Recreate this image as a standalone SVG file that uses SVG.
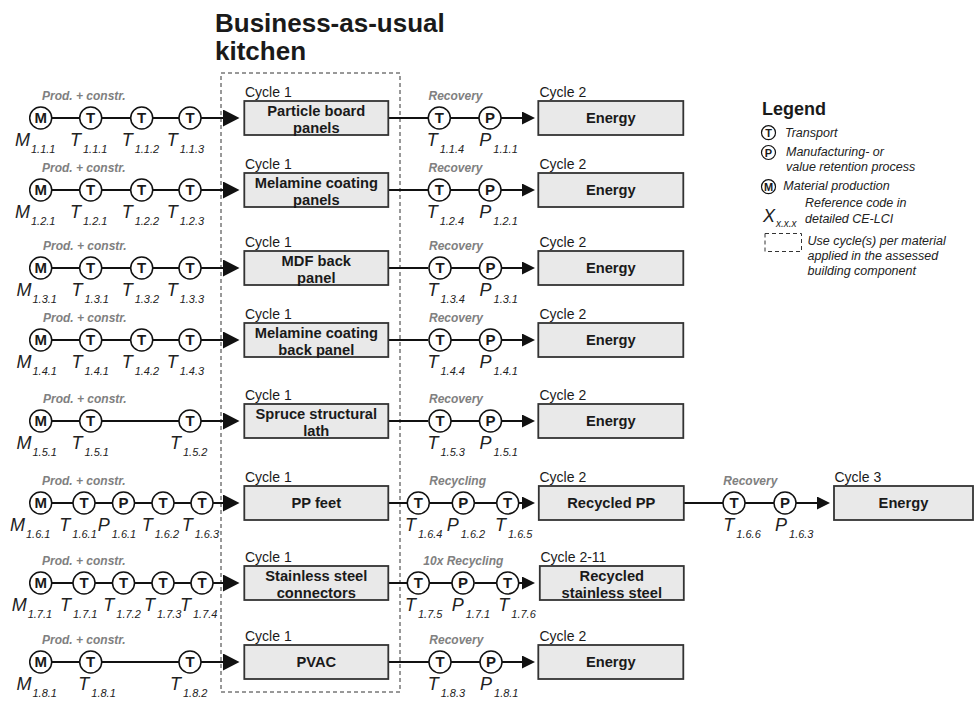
<svg xmlns="http://www.w3.org/2000/svg" width="974" height="701" viewBox="0 0 974 701">
<style>
text{font-family:"Liberation Sans",Arial,sans-serif;fill:#1a1a1a}
.ttl{font-size:26px;font-weight:bold}
.ln{stroke:#111;stroke-width:2;fill:none}
.c{fill:#fff;stroke:#111;stroke-width:1.5}
.cl{font-size:15px;font-weight:bold;text-anchor:middle}
.bx{fill:#e9e9e9;stroke:#333;stroke-width:1.8}
.bt{font-size:14.7px;font-weight:bold;text-anchor:middle}
.cy{font-size:14px}
.ph{font-size:12px;font-style:italic;font-weight:bold;fill:#808080}
.lb{font-size:18px;font-style:italic;fill:#222}
.sb{font-size:11px}
.dash{fill:none;stroke:#333;stroke-width:1;stroke-dasharray:4 3}
.lg{font-size:18px;font-weight:bold}
.lt{font-size:12.5px;font-style:italic;fill:#222}
.lc{fill:#fff;stroke:#111;stroke-width:1.2}
.lcl{font-size:11px;font-weight:bold;text-anchor:middle}
</style>
<defs>
<marker id="aL" markerUnits="userSpaceOnUse" markerWidth="17" markerHeight="17" refX="0" refY="8.5" orient="auto"><path d="M0,0 L16.5,8.5 L0,17 z" fill="#111"/></marker>
<marker id="aS" markerUnits="userSpaceOnUse" markerWidth="14" markerHeight="13" refX="0" refY="6.5" orient="auto"><path d="M0,0 L13,6.5 L0,13 z" fill="#111"/></marker>
</defs>

<g id="title">
<text class="ttl" x="215" y="32">Business-as-usual</text>
<text class="ttl" x="215" y="60">kitchen</text>
</g>
<rect id="use-cycle-frame" class="dash" x="221" y="73" width="179" height="619"/>

<g id="connectors">
<!-- row 1 -->
<path class="ln" d="M51.7,118H79.7M101.7,118H130.7M152.7,118H179"/>
<path class="ln" d="M201,118H223" marker-end="url(#aL)"/>
<path class="ln" d="M388.3,118H428.3M450.3,118H479"/>
<path class="ln" d="M501,118H522" marker-end="url(#aS)"/>
<!-- row 2 -->
<path class="ln" d="M51.7,190H79.7M101.7,190H130.7M152.7,190H179"/>
<path class="ln" d="M201,190H223" marker-end="url(#aL)"/>
<path class="ln" d="M388.3,190H428.3M450.3,190H479"/>
<path class="ln" d="M501,190H522" marker-end="url(#aS)"/>
<!-- row 3 -->
<path class="ln" d="M51.7,268H79.7M101.7,268H130.7M152.7,268H179"/>
<path class="ln" d="M201,268H223" marker-end="url(#aL)"/>
<path class="ln" d="M388.3,268H428.3M450.3,268H479"/>
<path class="ln" d="M501,268H522" marker-end="url(#aS)"/>
<!-- row 4 -->
<path class="ln" d="M51.7,340H79.7M101.7,340H130.7M152.7,340H179"/>
<path class="ln" d="M201,340H223" marker-end="url(#aL)"/>
<path class="ln" d="M388.3,340H428.3M450.3,340H479"/>
<path class="ln" d="M501,340H522" marker-end="url(#aS)"/>
<!-- row 5 -->
<path class="ln" d="M51.7,421H79.7M101.7,421H179"/>
<path class="ln" d="M201,421H223" marker-end="url(#aL)"/>
<path class="ln" d="M388.3,421H428.3M450.3,421H479"/>
<path class="ln" d="M501,421H522" marker-end="url(#aS)"/>
<!-- row 6 -->
<path class="ln" d="M51.7,503H73M95,503H112.5M134.5,503H152M174,503H191"/>
<path class="ln" d="M213,503H223" marker-end="url(#aL)"/>
<path class="ln" d="M388.3,503H407.3M429.3,503H452.3M474.3,503H496.7"/>
<path class="ln" d="M518.7,503H522" marker-end="url(#aS)"/>
<path class="ln" d="M684,503H723M745,503H774"/>
<path class="ln" d="M796,503H817" marker-end="url(#aS)"/>
<!-- row 7 -->
<path class="ln" d="M51.7,583H73M95,583H112.5M134.5,583H152M174,583H191"/>
<path class="ln" d="M213,583H223" marker-end="url(#aL)"/>
<path class="ln" d="M388.3,583H407.3M429.3,583H452.3M474.3,583H496.7"/>
<path class="ln" d="M518.7,583H522" marker-end="url(#aS)"/>
<!-- row 8 -->
<path class="ln" d="M51.7,662H79.7M101.7,662H179"/>
<path class="ln" d="M201,662H223" marker-end="url(#aL)"/>
<path class="ln" d="M388.3,662H429M451,662H480"/>
<path class="ln" d="M502,662H522" marker-end="url(#aS)"/>
</g>

<!-- ===== Row 1 ===== -->
<text class="ph" x="42" y="100">Prod. + constr.</text>
<g id="M111"><circle class="c" cx="40.7" cy="118" r="11"/><text class="cl" x="40.7" y="123.4">M</text><text class="lb" x="15" y="146">M<tspan class="sb" dx="1" dy="7">1.1.1</tspan></text></g>
<g id="T111"><circle class="c" cx="90.7" cy="118" r="11"/><text class="cl" x="90.7" y="123.4">T</text><text class="lb" x="70" y="146">T<tspan class="sb" dx="2" dy="7">1.1.1</tspan></text></g>
<g id="T112"><circle class="c" cx="141.7" cy="118" r="11"/><text class="cl" x="141.7" y="123.4">T</text><text class="lb" x="121.7" y="146">T<tspan class="sb" dx="2" dy="7">1.1.2</tspan></text></g>
<g id="T113"><circle class="c" cx="190" cy="118" r="11"/><text class="cl" x="190" y="123.4">T</text><text class="lb" x="166.7" y="146">T<tspan class="sb" dx="2" dy="7">1.1.3</tspan></text></g>
<g id="c1-particle"><text class="cy" x="245" y="96.5">Cycle 1</text><rect class="bx" x="244.3" y="101" width="144" height="34"/><text class="bt" x="316.3" y="115.5">Particle board</text><text class="bt" x="316.3" y="132.5">panels</text></g>
<text class="ph" x="428.5" y="100">Recovery</text>
<g id="T114"><circle class="c" cx="439.3" cy="118" r="11"/><text class="cl" x="439.3" y="123.4">T</text><text class="lb" x="426.7" y="146">T<tspan class="sb" dx="2" dy="7">1.1.4</tspan></text></g>
<g id="P111"><circle class="c" cx="490" cy="118" r="11"/><text class="cl" x="490" y="123.4">P</text><text class="lb" x="479.3" y="146">P<tspan class="sb" dx="2" dy="7">1.1.1</tspan></text></g>
<g id="c2-energy-1"><text class="cy" x="539.5" y="96.5">Cycle 2</text><rect class="bx" x="538.3" y="101" width="145" height="34"/><text class="bt" x="610.8" y="123">Energy</text></g>

<!-- ===== Row 2 ===== -->
<text class="ph" x="42" y="172">Prod. + constr.</text>
<g id="M121"><circle class="c" cx="40.7" cy="190" r="11"/><text class="cl" x="40.7" y="195.4">M</text><text class="lb" x="15" y="218">M<tspan class="sb" dx="1" dy="7">1.2.1</tspan></text></g>
<g id="T121"><circle class="c" cx="90.7" cy="190" r="11"/><text class="cl" x="90.7" y="195.4">T</text><text class="lb" x="70" y="218">T<tspan class="sb" dx="2" dy="7">1.2.1</tspan></text></g>
<g id="T122"><circle class="c" cx="141.7" cy="190" r="11"/><text class="cl" x="141.7" y="195.4">T</text><text class="lb" x="121.7" y="218">T<tspan class="sb" dx="2" dy="7">1.2.2</tspan></text></g>
<g id="T123"><circle class="c" cx="190" cy="190" r="11"/><text class="cl" x="190" y="195.4">T</text><text class="lb" x="166.7" y="218">T<tspan class="sb" dx="2" dy="7">1.2.3</tspan></text></g>
<g id="c1-melamine"><text class="cy" x="245" y="168.5">Cycle 1</text><rect class="bx" x="244.3" y="173" width="144" height="34"/><text class="bt" x="316.3" y="187.5">Melamine coating</text><text class="bt" x="316.3" y="204.5">panels</text></g>
<text class="ph" x="428.5" y="172">Recovery</text>
<g id="T124"><circle class="c" cx="439.3" cy="190" r="11"/><text class="cl" x="439.3" y="195.4">T</text><text class="lb" x="426.7" y="218">T<tspan class="sb" dx="2" dy="7">1.2.4</tspan></text></g>
<g id="P121"><circle class="c" cx="490" cy="190" r="11"/><text class="cl" x="490" y="195.4">P</text><text class="lb" x="479.3" y="218">P<tspan class="sb" dx="2" dy="7">1.2.1</tspan></text></g>
<g id="c2-energy-2"><text class="cy" x="539.5" y="168.5">Cycle 2</text><rect class="bx" x="538.3" y="173" width="145" height="34"/><text class="bt" x="610.8" y="195">Energy</text></g>

<!-- ===== Row 3 ===== -->
<text class="ph" x="43" y="250">Prod. + constr.</text>
<g id="M131"><circle class="c" cx="40.7" cy="268" r="11"/><text class="cl" x="40.7" y="273.4">M</text><text class="lb" x="16.5" y="296">M<tspan class="sb" dx="1" dy="7">1.3.1</tspan></text></g>
<g id="T131"><circle class="c" cx="90.7" cy="268" r="11"/><text class="cl" x="90.7" y="273.4">T</text><text class="lb" x="71.5" y="296">T<tspan class="sb" dx="2" dy="7">1.3.1</tspan></text></g>
<g id="T132"><circle class="c" cx="141.7" cy="268" r="11"/><text class="cl" x="141.7" y="273.4">T</text><text class="lb" x="121.7" y="296">T<tspan class="sb" dx="2" dy="7">1.3.2</tspan></text></g>
<g id="T133"><circle class="c" cx="190" cy="268" r="11"/><text class="cl" x="190" y="273.4">T</text><text class="lb" x="166.7" y="296">T<tspan class="sb" dx="2" dy="7">1.3.3</tspan></text></g>
<g id="c1-mdf"><text class="cy" x="245" y="246.5">Cycle 1</text><rect class="bx" x="244.3" y="251" width="144" height="34"/><text class="bt" x="316.3" y="265.5">MDF back</text><text class="bt" x="316.3" y="282.5">panel</text></g>
<text class="ph" x="429" y="250">Recovery</text>
<g id="T134"><circle class="c" cx="440" cy="268" r="11"/><text class="cl" x="440" y="273.4">T</text><text class="lb" x="427.5" y="296">T<tspan class="sb" dx="2" dy="7">1.3.4</tspan></text></g>
<g id="P131"><circle class="c" cx="490.5" cy="268" r="11"/><text class="cl" x="490.5" y="273.4">P</text><text class="lb" x="479.5" y="296">P<tspan class="sb" dx="2" dy="7">1.3.1</tspan></text></g>
<g id="c2-energy-3"><text class="cy" x="539.5" y="246.5">Cycle 2</text><rect class="bx" x="538.3" y="251" width="145" height="34"/><text class="bt" x="610.8" y="273">Energy</text></g>

<!-- ===== Row 4 ===== -->
<text class="ph" x="43" y="322">Prod. + constr.</text>
<g id="M141"><circle class="c" cx="40.7" cy="340" r="11"/><text class="cl" x="40.7" y="345.4">M</text><text class="lb" x="16.5" y="368">M<tspan class="sb" dx="1" dy="7">1.4.1</tspan></text></g>
<g id="T141"><circle class="c" cx="90.7" cy="340" r="11"/><text class="cl" x="90.7" y="345.4">T</text><text class="lb" x="71.5" y="368">T<tspan class="sb" dx="2" dy="7">1.4.1</tspan></text></g>
<g id="T142"><circle class="c" cx="141.7" cy="340" r="11"/><text class="cl" x="141.7" y="345.4">T</text><text class="lb" x="121.7" y="368">T<tspan class="sb" dx="2" dy="7">1.4.2</tspan></text></g>
<g id="T143"><circle class="c" cx="190" cy="340" r="11"/><text class="cl" x="190" y="345.4">T</text><text class="lb" x="166.7" y="368">T<tspan class="sb" dx="2" dy="7">1.4.3</tspan></text></g>
<g id="c1-melamine-back"><text class="cy" x="245" y="318.5">Cycle 1</text><rect class="bx" x="244.3" y="323" width="144" height="34"/><text class="bt" x="316.3" y="337.5">Melamine coating</text><text class="bt" x="316.3" y="354.5">back panel</text></g>
<text class="ph" x="429" y="322">Recovery</text>
<g id="T144"><circle class="c" cx="440" cy="340" r="11"/><text class="cl" x="440" y="345.4">T</text><text class="lb" x="427.5" y="368">T<tspan class="sb" dx="2" dy="7">1.4.4</tspan></text></g>
<g id="P141"><circle class="c" cx="490.5" cy="340" r="11"/><text class="cl" x="490.5" y="345.4">P</text><text class="lb" x="479.5" y="368">P<tspan class="sb" dx="2" dy="7">1.4.1</tspan></text></g>
<g id="c2-energy-4"><text class="cy" x="539.5" y="318.5">Cycle 2</text><rect class="bx" x="538.3" y="323" width="145" height="34"/><text class="bt" x="610.8" y="345">Energy</text></g>

<!-- ===== Row 5 ===== -->
<text class="ph" x="43" y="403">Prod. + constr.</text>
<g id="M151"><circle class="c" cx="40.7" cy="421" r="11"/><text class="cl" x="40.7" y="426.4">M</text><text class="lb" x="16.5" y="449">M<tspan class="sb" dx="1" dy="7">1.5.1</tspan></text></g>
<g id="T151"><circle class="c" cx="90.7" cy="421" r="11"/><text class="cl" x="90.7" y="426.4">T</text><text class="lb" x="71.5" y="449">T<tspan class="sb" dx="2" dy="7">1.5.1</tspan></text></g>
<g id="T152"><circle class="c" cx="190" cy="421" r="11"/><text class="cl" x="190" y="426.4">T</text><text class="lb" x="170" y="449">T<tspan class="sb" dx="2" dy="7">1.5.2</tspan></text></g>
<g id="c1-spruce"><text class="cy" x="245" y="399.5">Cycle 1</text><rect class="bx" x="244.3" y="404" width="144" height="34"/><text class="bt" x="316.3" y="418.5">Spruce structural</text><text class="bt" x="316.3" y="435.5">lath</text></g>
<text class="ph" x="429" y="403">Recovery</text>
<g id="T153"><circle class="c" cx="440" cy="421" r="11"/><text class="cl" x="440" y="426.4">T</text><text class="lb" x="427.5" y="449">T<tspan class="sb" dx="2" dy="7">1.5.3</tspan></text></g>
<g id="P151"><circle class="c" cx="490.5" cy="421" r="11"/><text class="cl" x="490.5" y="426.4">P</text><text class="lb" x="479.5" y="449">P<tspan class="sb" dx="2" dy="7">1.5.1</tspan></text></g>
<g id="c2-energy-5"><text class="cy" x="539.5" y="399.5">Cycle 2</text><rect class="bx" x="538.3" y="404" width="145" height="34"/><text class="bt" x="610.8" y="426">Energy</text></g>

<!-- ===== Row 6 ===== -->
<text class="ph" x="42" y="485">Prod. + constr.</text>
<g id="M161"><circle class="c" cx="40.7" cy="503" r="11"/><text class="cl" x="40.7" y="508.4">M</text><text class="lb" x="10" y="531">M<tspan class="sb" dx="1" dy="7">1.6.1</tspan></text></g>
<g id="T161"><circle class="c" cx="84" cy="503" r="11"/><text class="cl" x="84" y="508.4">T</text><text class="lb" x="59.3" y="531">T<tspan class="sb" dx="2" dy="7">1.6.1</tspan></text></g>
<g id="P161"><circle class="c" cx="123.5" cy="503" r="11"/><text class="cl" x="123.5" y="508.4">P</text><text class="lb" x="97.7" y="531">P<tspan class="sb" dx="2" dy="7">1.6.1</tspan></text></g>
<g id="T162"><circle class="c" cx="163" cy="503" r="11"/><text class="cl" x="163" y="508.4">T</text><text class="lb" x="141.7" y="531">T<tspan class="sb" dx="2" dy="7">1.6.2</tspan></text></g>
<g id="T163"><circle class="c" cx="202" cy="503" r="11"/><text class="cl" x="202" y="508.4">T</text><text class="lb" x="181.7" y="531">T<tspan class="sb" dx="2" dy="7">1.6.3</tspan></text></g>
<g id="c1-ppfeet"><text class="cy" x="245" y="481.5">Cycle 1</text><rect class="bx" x="244.3" y="486" width="144" height="34"/><text class="bt" x="316.3" y="508">PP feet</text></g>
<text class="ph" x="429.3" y="485">Recycling</text>
<g id="T164"><circle class="c" cx="418.3" cy="503" r="11"/><text class="cl" x="418.3" y="508.4">T</text><text class="lb" x="405" y="531">T<tspan class="sb" dx="2" dy="7">1.6.4</tspan></text></g>
<g id="P162"><circle class="c" cx="463.3" cy="503" r="11"/><text class="cl" x="463.3" y="508.4">P</text><text class="lb" x="446.7" y="531">P<tspan class="sb" dx="2" dy="7">1.6.2</tspan></text></g>
<g id="T165"><circle class="c" cx="507.7" cy="503" r="11"/><text class="cl" x="507.7" y="508.4">T</text><text class="lb" x="495" y="531">T<tspan class="sb" dx="2" dy="7">1.6.5</tspan></text></g>
<g id="c2-recycled-pp"><text class="cy" x="539.5" y="481.5">Cycle 2</text><rect class="bx" x="538.8" y="486" width="145" height="34"/><text class="bt" x="611.3" y="508">Recycled PP</text></g>
<text class="ph" x="723.3" y="485">Recovery</text>
<g id="T166"><circle class="c" cx="734" cy="503" r="11"/><text class="cl" x="734" y="508.4">T</text><text class="lb" x="723.3" y="531">T<tspan class="sb" dx="2" dy="7">1.6.6</tspan></text></g>
<g id="P163"><circle class="c" cx="785" cy="503" r="11"/><text class="cl" x="785" y="508.4">P</text><text class="lb" x="775" y="531">P<tspan class="sb" dx="2" dy="7">1.6.3</tspan></text></g>
<g id="c3-energy"><text class="cy" x="834.5" y="481.5">Cycle 3</text><rect class="bx" x="834" y="486" width="139" height="34"/><text class="bt" x="903.5" y="508">Energy</text></g>

<!-- ===== Row 7 ===== -->
<text class="ph" x="42" y="565">Prod. + constr.</text>
<g id="M171"><circle class="c" cx="40.7" cy="583" r="11"/><text class="cl" x="40.7" y="588.4">M</text><text class="lb" x="11.7" y="611">M<tspan class="sb" dx="1" dy="7">1.7.1</tspan></text></g>
<g id="T171"><circle class="c" cx="84" cy="583" r="11"/><text class="cl" x="84" y="588.4">T</text><text class="lb" x="60" y="611">T<tspan class="sb" dx="2" dy="7">1.7.1</tspan></text></g>
<g id="T172"><circle class="c" cx="123.5" cy="583" r="11"/><text class="cl" x="123.5" y="588.4">T</text><text class="lb" x="103.3" y="611">T<tspan class="sb" dx="2" dy="7">1.7.2</tspan></text></g>
<g id="T173"><circle class="c" cx="163" cy="583" r="11"/><text class="cl" x="163" y="588.4">T</text><text class="lb" x="144" y="611">T<tspan class="sb" dx="2" dy="7">1.7.3</tspan></text></g>
<g id="T174"><circle class="c" cx="202" cy="583" r="11"/><text class="cl" x="202" y="588.4">T</text><text class="lb" x="180" y="611">T<tspan class="sb" dx="2" dy="7">1.7.4</tspan></text></g>
<g id="c1-steel"><text class="cy" x="245" y="561.5">Cycle 1</text><rect class="bx" x="244.3" y="566" width="144" height="34"/><text class="bt" x="316.3" y="580.5">Stainless steel</text><text class="bt" x="316.3" y="597.5">connectors</text></g>
<text class="ph" x="423.3" y="565">10x Recycling</text>
<g id="T175"><circle class="c" cx="418.3" cy="583" r="11"/><text class="cl" x="418.3" y="588.4">T</text><text class="lb" x="405" y="611">T<tspan class="sb" dx="2" dy="7">1.7.5</tspan></text></g>
<g id="P171"><circle class="c" cx="463" cy="583" r="11"/><text class="cl" x="463" y="588.4">P</text><text class="lb" x="451.7" y="611">P<tspan class="sb" dx="2" dy="7">1.7.1</tspan></text></g>
<g id="T176"><circle class="c" cx="507.7" cy="583" r="11"/><text class="cl" x="507.7" y="588.4">T</text><text class="lb" x="498.3" y="611">T<tspan class="sb" dx="2" dy="7">1.7.6</tspan></text></g>
<g id="c2-recycled-steel"><text class="cy" x="540.5" y="561.5">Cycle 2-11</text><rect class="bx" x="539.8" y="566" width="144" height="34"/><text class="bt" x="611.8" y="580.5">Recycled</text><text class="bt" x="611.8" y="597.5">stainless steel</text></g>

<!-- ===== Row 8 ===== -->
<text class="ph" x="42" y="644">Prod. + constr.</text>
<g id="M181"><circle class="c" cx="40.7" cy="662" r="11"/><text class="cl" x="40.7" y="667.4">M</text><text class="lb" x="16.5" y="690">M<tspan class="sb" dx="1" dy="7">1.8.1</tspan></text></g>
<g id="T181"><circle class="c" cx="90.7" cy="662" r="11"/><text class="cl" x="90.7" y="667.4">T</text><text class="lb" x="78.3" y="690">T<tspan class="sb" dx="2" dy="7">1.8.1</tspan></text></g>
<g id="T182"><circle class="c" cx="190" cy="662" r="11"/><text class="cl" x="190" y="667.4">T</text><text class="lb" x="170" y="690">T<tspan class="sb" dx="2" dy="7">1.8.2</tspan></text></g>
<g id="c1-pvac"><text class="cy" x="245" y="640.5">Cycle 1</text><rect class="bx" x="244.3" y="645" width="144" height="34"/><text class="bt" x="316.3" y="667">PVAC</text></g>
<text class="ph" x="429.3" y="644">Recovery</text>
<g id="T183"><circle class="c" cx="440" cy="662" r="11"/><text class="cl" x="440" y="667.4">T</text><text class="lb" x="427.7" y="690">T<tspan class="sb" dx="2" dy="7">1.8.3</tspan></text></g>
<g id="P181"><circle class="c" cx="491" cy="662" r="11"/><text class="cl" x="491" y="667.4">P</text><text class="lb" x="480" y="690">P<tspan class="sb" dx="2" dy="7">1.8.1</tspan></text></g>
<g id="c2-energy-8"><text class="cy" x="539.5" y="640.5">Cycle 2</text><rect class="bx" x="538.3" y="645" width="145" height="34"/><text class="bt" x="610.8" y="667">Energy</text></g>

<!-- ===== Legend ===== -->
<g id="legend">
<text class="lg" x="762" y="115">Legend</text>
<circle class="lc" cx="768.5" cy="132.7" r="7"/><text class="lcl" x="768.5" y="136.7">T</text>
<text class="lt" x="785" y="136.7">Transport</text>
<circle class="lc" cx="768.5" cy="152.5" r="7"/><text class="lcl" x="768.5" y="156.5">P</text>
<text class="lt" x="786" y="155.7">Manufacturing- or</text>
<text class="lt" x="786" y="171">value retention process</text>
<circle class="lc" cx="768.5" cy="186.7" r="7"/><text class="lcl" x="768.5" y="190.7">M</text>
<text class="lt" x="783.3" y="190">Material production</text>
<text class="lb" x="763" y="222">X<tspan class="sb" style="font-size:10px" dx="1" dy="5">x.x.x</tspan></text>
<text class="lt" x="805" y="207.3">Reference code in</text>
<text class="lt" x="805" y="223.3">detailed CE-LCI</text>
<rect class="dash" x="765" y="233.5" width="36.5" height="18"/>
<text class="lt" x="807.5" y="245">Use cycle(s) per material</text>
<text class="lt" x="807.5" y="260">applied in the assessed</text>
<text class="lt" x="807.5" y="275">building component</text>
</g>
</svg>
